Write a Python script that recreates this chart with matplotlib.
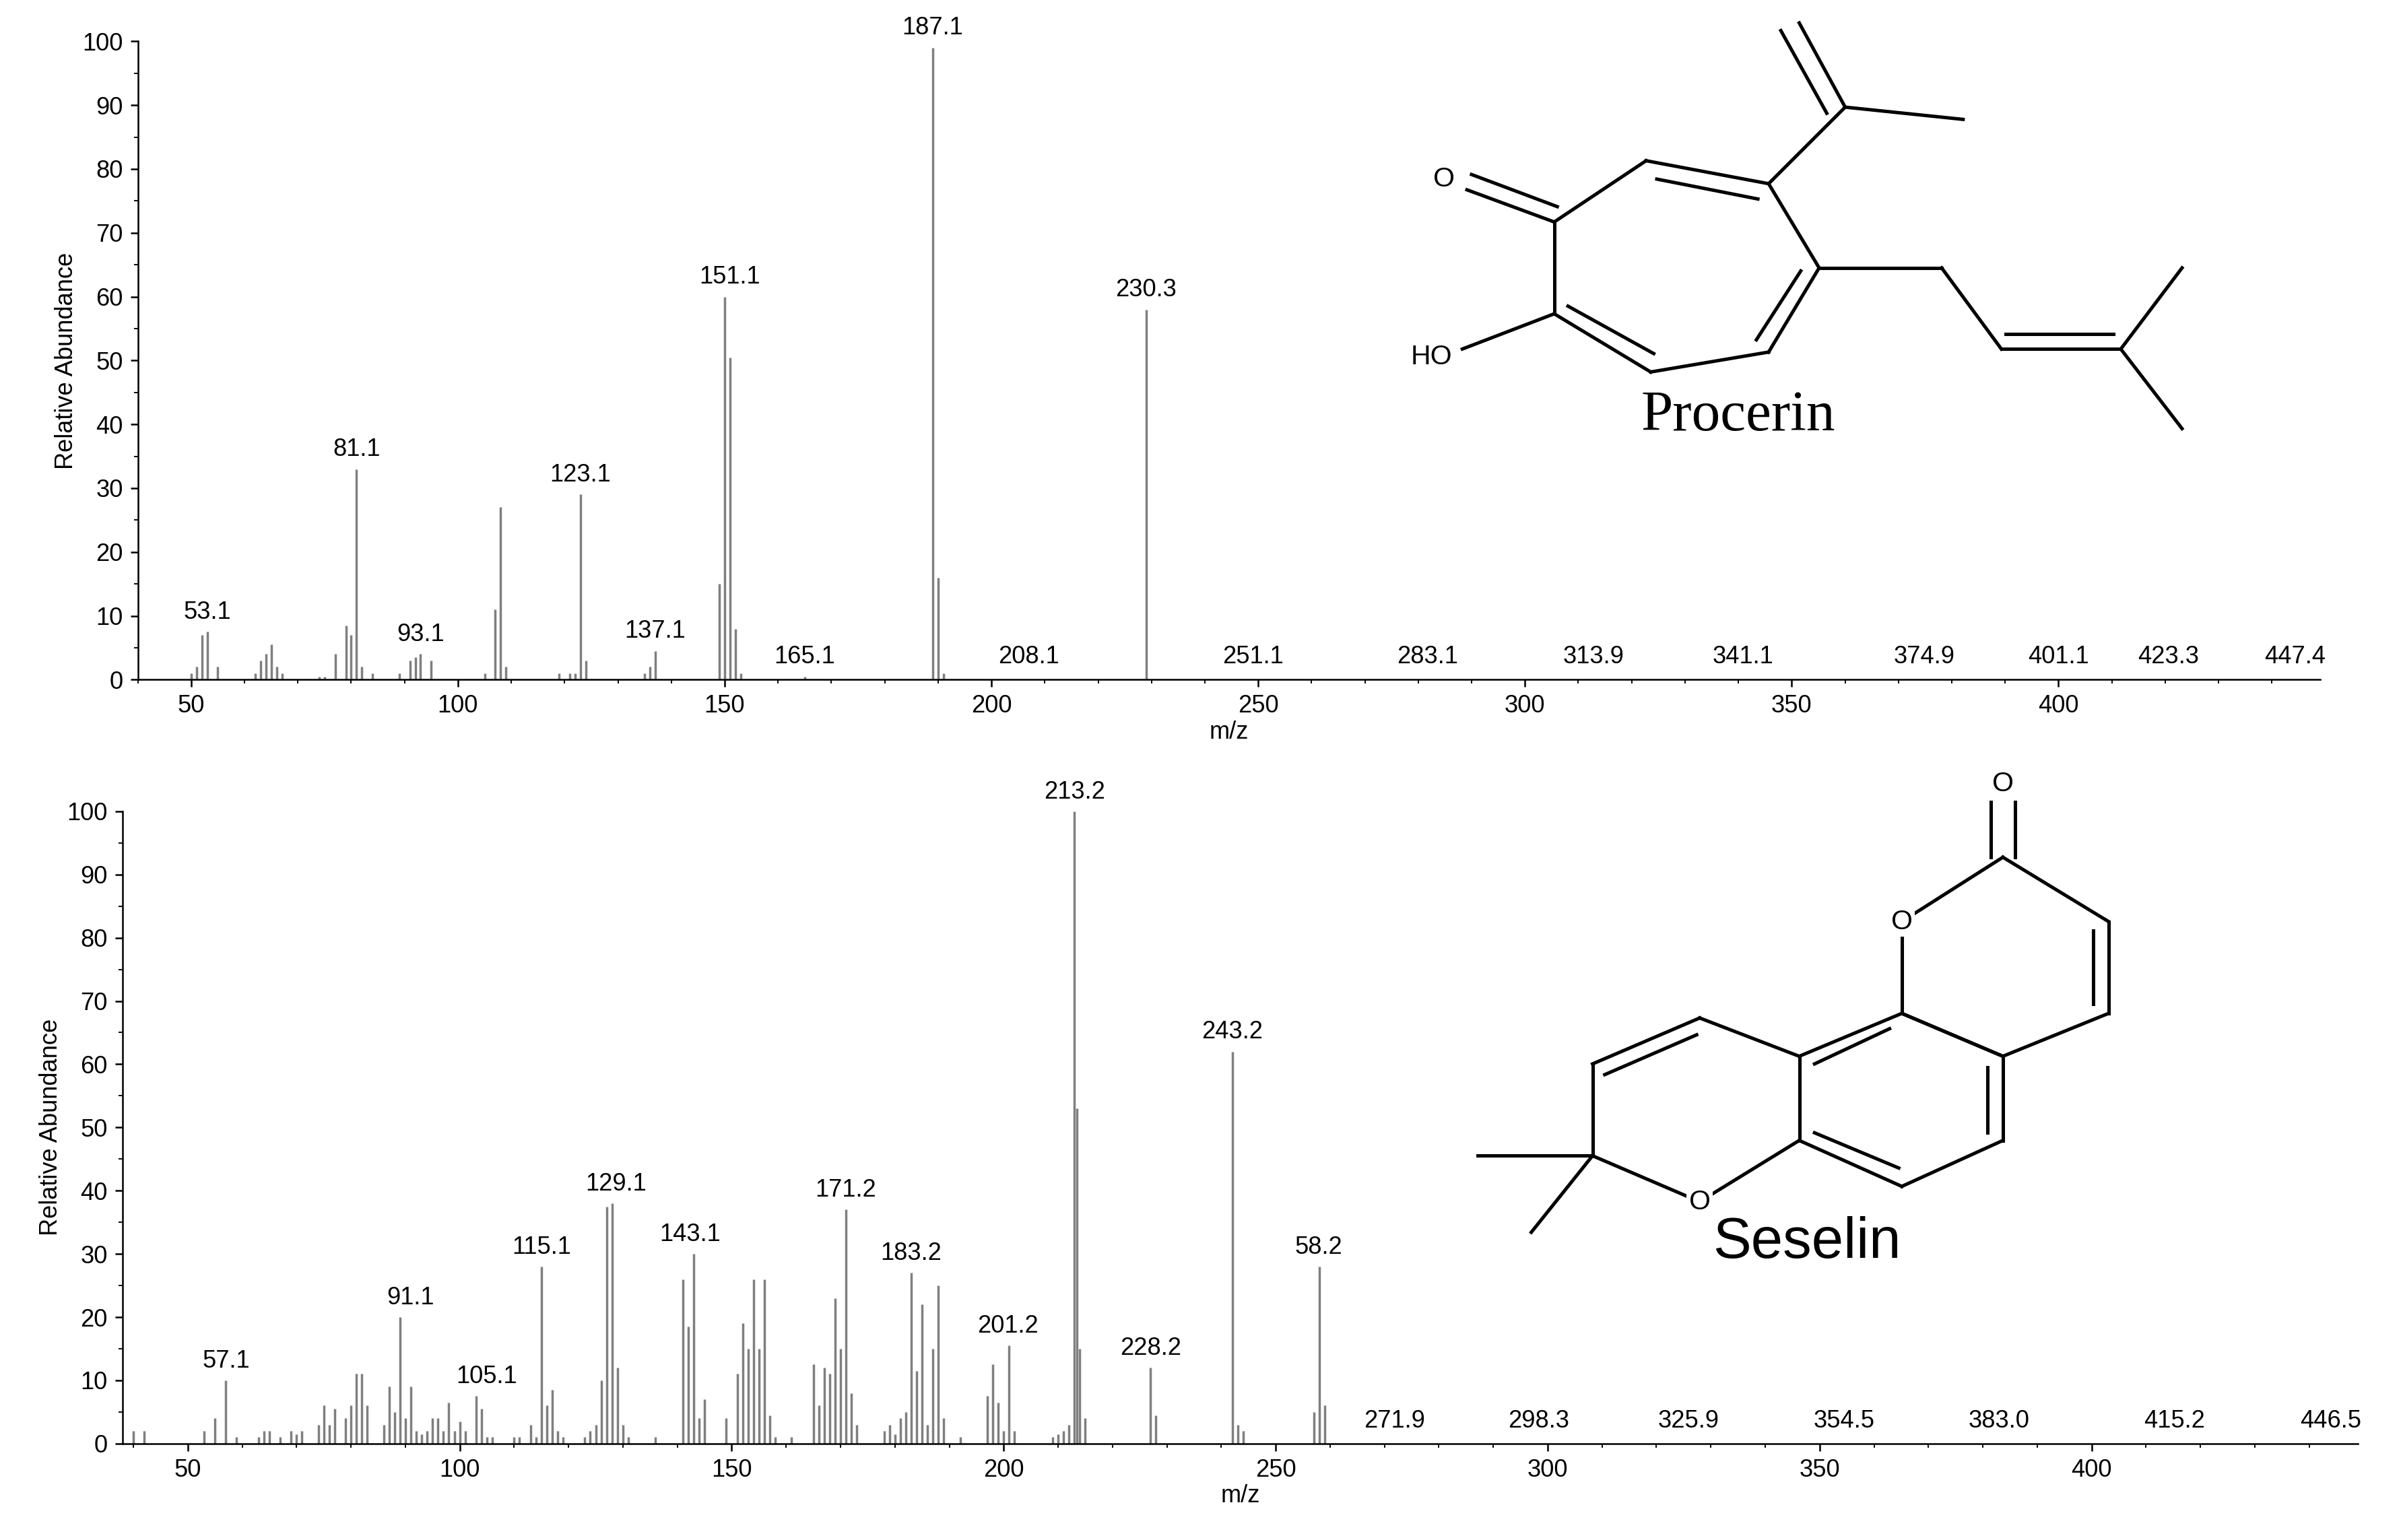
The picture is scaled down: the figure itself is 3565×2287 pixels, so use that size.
import matplotlib
matplotlib.use("Agg")
import matplotlib.pyplot as plt
from matplotlib.lines import Line2D
from matplotlib.ticker import MultipleLocator

plt.rcParams['font.family'] = ['Liberation Sans', 'DejaVu Sans']

# Procerin spectrum (m/z, relative abundance)
top_mz = [50, 51, 52, 53, 55, 62, 63, 64, 65, 66, 67, 74, 75, 77, 79, 80, 81, 82, 84,
          89, 91, 92, 93, 95, 105, 107, 108, 109, 119, 121, 122, 123, 124, 135, 136, 137,
          149, 150, 151, 152, 153, 165, 189, 190, 191, 229]
top_int = [1, 2, 7, 7.5, 2, 1, 3, 4, 5.5, 2, 1, 0.5, 0.5, 4, 8.5, 7, 33, 2, 1,
           1, 3, 3.5, 4, 3, 1, 11, 27, 2, 1, 1, 1, 29, 3, 1, 2, 4.5,
           15, 60, 50.5, 8, 1, 0.5, 99, 16, 1, 58]
top_lab_x = [53, 81, 93, 123, 137, 151, 165, 189, 207, 229, 249, 281.7, 312.9, 340.9,
             374.9, 400, 420.6, 444.3]
top_lab_y = [7.5, 33, 4, 29, 4.5, 60, 0.5, 99, 0.5, 58, 0.5, 0.5, 0.5, 0.5, 0.5, 0.5, 0.5, 0.5]
top_lab = ['53.1', '81.1', '93.1', '123.1', '137.1', '151.1', '165.1', '187.1', '208.1',
           '230.3', '251.1', '283.1', '313.9', '341.1', '374.9', '401.1', '423.3', '447.4']

# Seselin spectrum
bot_mz = [40, 42, 53, 55, 57, 59, 63, 64, 65, 67, 69, 70, 71, 74, 75, 76, 77, 79, 80, 81,
          82, 83, 86, 87, 88, 89, 90, 91, 92, 93, 94, 95, 96, 97, 98, 99, 100, 101, 103,
          104, 105, 106, 110, 111, 113, 114, 115, 116, 117, 118, 119, 123, 124, 125, 126,
          127, 128, 129, 130, 131, 136, 141, 142, 143, 144, 145, 149, 151, 152, 153, 154,
          155, 156, 157, 158, 161, 165, 166, 167, 168, 169, 170, 171, 172, 173, 178, 179,
          180, 181, 182, 183, 184, 185, 186, 187, 188, 189, 192, 197, 198, 199, 200, 201,
          202, 209, 210, 211, 212, 213, 213.5, 214, 215, 227, 228, 242, 243, 244, 257,
          258, 259]
bot_int = [2, 2, 2, 4, 10, 1, 1, 2, 2, 1, 2, 1.5, 2, 3, 6, 3, 5.5, 4, 6, 11,
           11, 6, 3, 9, 5, 20, 4, 9, 2, 1.5, 2, 4, 4, 2, 6.5, 2, 3.5, 2, 7.5,
           5.5, 1, 1, 1, 1, 3, 1, 28, 6, 8.5, 2, 1, 1, 2, 3, 10,
           37.5, 38, 12, 3, 1, 1, 26, 18.5, 30, 4, 7, 4, 11, 19, 15, 26,
           15, 26, 4.5, 1, 1, 12.5, 6, 12, 11, 23, 15, 37, 8, 3, 2, 3,
           1.5, 4, 5, 27, 11.5, 22, 3, 15, 25, 4, 1, 7.5, 12.5, 6.5, 2, 15.5,
           2, 1, 1.5, 2, 3, 100, 53, 15, 4, 12, 4.5, 62, 3, 2, 5,
           28, 6]
bot_lab_x = [57, 91, 105, 115, 128.7, 142.4, 171, 183, 200.8, 213, 227, 242, 257.9, 271.9,
             298.3, 325.9, 354.5, 383, 415.2, 444]
bot_lab_y = [10, 20, 7.5, 28, 38, 30, 37, 27, 15.5, 100, 12, 62, 28, 0.5, 0.5, 0.5, 0.5,
             0.5, 0.5, 0.5]
bot_lab = ['57.1', '91.1', '105.1', '115.1', '129.1', '143.1', '171.2', '183.2', '201.2',
           '213.2', '228.2', '243.2', '58.2', '271.9', '298.3', '325.9', '354.5', '383.0',
           '415.2', '446.5']

W, H = 1568.0, 1006.0
fig = plt.figure(figsize=(15.705, 10.075), dpi=227)


def spectrum(rect, mz, inten, lx, ly, lab, xlim):
    ax = fig.add_axes(rect)
    ax.vlines(mz, 0, inten, color='#7f7f7f', lw=1.1)
    for x, y, t in zip(lx, ly, lab):
        ax.text(x, y + 1.2, t, ha='center', va='bottom', fontsize=11.5, clip_on=False)
    ax.set_xlim(*xlim)
    ax.set_ylim(0, 100)
    ax.xaxis.set_major_locator(MultipleLocator(50))
    ax.xaxis.set_minor_locator(MultipleLocator(10))
    ax.yaxis.set_major_locator(MultipleLocator(10))
    ax.yaxis.set_minor_locator(MultipleLocator(5))
    ax.tick_params(labelsize=11.5, direction='out')
    for s in ['top', 'right']:
        ax.spines[s].set_visible(False)
    ax.set_xlabel('m/z', fontsize=11.5, labelpad=1)
    ax.set_ylabel('Relative Abundance', fontsize=11.5, labelpad=2,
                  family=['Liberation Sans Narrow', 'Liberation Sans'])
    return ax


spectrum([90 / W, 1 - 444 / H, 1425 / W, 417 / H], top_mz, top_int,
         top_lab_x, top_lab_y, top_lab, (40, 449))
spectrum([80 / W, 1 - 943 / H, 1460 / W, 413 / H], bot_mz, bot_int,
         bot_lab_x, bot_lab_y, bot_lab, (38, 449))


def bond(p, q, lw=1.6):
    fig.add_artist(Line2D([p[0] / W, q[0] / W], [1 - p[1] / H, 1 - q[1] / H],
                          color='black', lw=lw, transform=fig.transFigure))


def ftext(x, y, s, size, bg=False, **kw):
    t = fig.text(x / W, 1 - y / H, s, fontsize=size, ha='center', va='center', zorder=5, **kw)
    if bg:
        t.set_bbox(dict(facecolor='white', edgecolor='none', pad=1))


# Procerin structure
ring = [(1015, 145), (1075, 105), (1155, 120), (1188, 175), (1155, 230), (1078, 243), (1015, 205)]
for i in range(7):
    bond(ring[i], ring[(i + 1) % 7])
bond((1082, 117), (1148, 130))
bond((1176, 177), (1147, 222))
bond((1080, 231), (1024, 200))
bond((958, 124), (1015, 145)); bond((961, 114), (1017, 135))
bond((955, 228), (1015, 205))
bond((1155, 120), (1205, 70)); bond((1205, 70), (1282, 78))
bond((1205, 70), (1175, 15)); bond((1193, 74), (1163, 20))
bond((1188, 175), (1268, 175)); bond((1268, 175), (1307, 228))
bond((1307, 228), (1385, 228)); bond((1310, 218), (1380, 218))
bond((1385, 228), (1425, 175)); bond((1385, 228), (1425, 280))
ftext(943, 117, 'O', 13)
ftext(935, 233, 'HO', 13)
ftext(1135, 272, 'Procerin', 27, family=['Liberation Serif', 'DejaVu Serif'])

# Seselin structure
pyr = [(1308, 560), (1377, 602), (1377, 662), (1308, 690), (1242, 662), (1242, 602)]
for i in range(6):
    bond(pyr[i], pyr[(i + 1) % 6])
bond((1367, 608), (1367, 656))
bond((1300, 560), (1300, 524)); bond((1316, 560), (1316, 524))
ben = [(1242, 662), (1308, 690), (1308, 745), (1242, 775), (1175, 745), (1175, 690)]
for i in range(6):
    bond(ben[i], ben[(i + 1) % 6])
bond((1298, 697), (1298, 740)); bond((1240, 763), (1185, 740))
bond((1185, 695), (1234, 672))
bond((1175, 690), (1110, 665)); bond((1110, 665), (1040, 695))
bond((1108, 676), (1048, 702))
bond((1040, 695), (1040, 755)); bond((1040, 755), (1110, 785))
bond((1110, 785), (1175, 745))
bond((1040, 755), (965, 755)); bond((1040, 755), (1000, 805))
ftext(1308, 512, 'O', 13)
ftext(1242, 602, 'O', 13, bg=True)
ftext(1110, 785, 'O', 13, bg=True)
ftext(1180, 812, 'Seselin', 27)

fig.savefig('out.png', dpi=227)
